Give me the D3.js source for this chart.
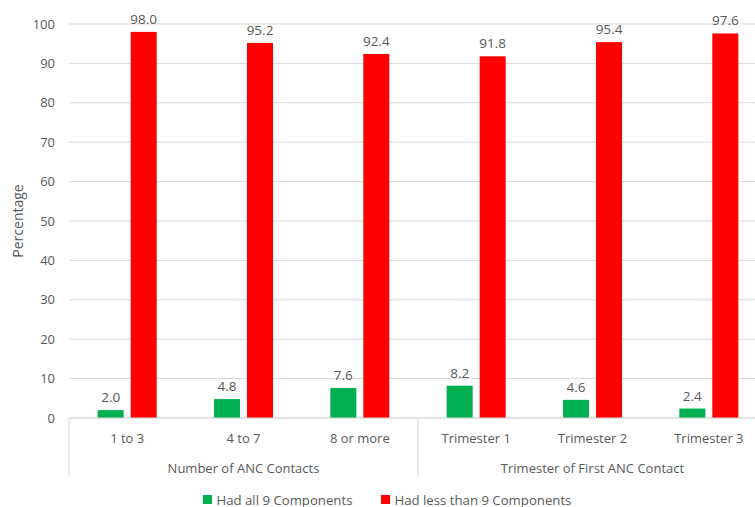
<!DOCTYPE html>
<html>
<head>
<meta charset="utf-8">
<script src="https://cdn.jsdelivr.net/npm/d3@7"></script>
<style>
  html, body { margin: 0; padding: 0; background: #fff; }
  svg text { font-family: "Open Sans", "Noto Sans", sans-serif; fill: #595959; }
</style>
</head>
<body>
<svg id="chart" width="755" height="507"></svg>
<script>
// Categories grouped under two headings
const categories = ["1 to 3", "4 to 7", "8 or more", "Trimester 1", "Trimester 2", "Trimester 3"];
const groups = [
  { name: "Number of ANC Contacts", members: ["1 to 3", "4 to 7", "8 or more"] },
  { name: "Trimester of First ANC Contact", members: ["Trimester 1", "Trimester 2", "Trimester 3"] }
];
const seriesNames = ["Had all 9 Components", "Had less than 9 Components"];
const allNine = [2.0, 4.8, 7.6, 8.2, 4.6, 2.4];
const lessNine = [98.0, 95.2, 92.4, 91.8, 95.4, 97.6];
const yTicks = [0, 10, 20, 30, 40, 50, 60, 70, 80, 90, 100];
const colors = ["#00B050", "#FF0000"];

const svg = d3.select("#chart");
const plotLeft = 69, plotRight = 767, plotTop = 24, plotBottom = 418;

const x = d3.scaleBand().domain(categories).range([plotLeft, plotRight]);
const inner = d3.scaleBand().domain(seriesNames).range([0, x.bandwidth()]).paddingInner(0.212).paddingOuter(0.868);
const y = d3.scaleLinear().domain([0, 100]).range([plotBottom, plotTop]);

// Horizontal gridlines
svg.append("g").selectAll("line").data(yTicks).join("line")
  .attr("x1", plotLeft).attr("x2", 755)
  .attr("y1", d => y(d)).attr("y2", d => y(d))
  .attr("stroke", "#D9D9D9").attr("stroke-width", 1);

// Y axis labels
const yAxis = svg.append("g").attr("transform", `translate(${plotLeft - 6},0)`)
  .call(d3.axisLeft(y).tickValues(yTicks).tickSize(0).tickPadding(8));
yAxis.select(".domain").remove();
yAxis.selectAll("text").attr("font-size", 13).style("font-family", "'Open Sans', sans-serif").attr("fill", "#595959");

svg.append("text")
  .attr("transform", `translate(23,${(plotTop + plotBottom) / 2}) rotate(-90)`)
  .attr("text-anchor", "middle").attr("font-size", 14).text("Percentage");

// Bars with value labels
const series = [allNine, lessNine];
series.forEach((vals, si) => {
  const g = svg.append("g");
  g.selectAll("rect").data(categories).join("rect")
    .attr("x", d => x(d) + inner(seriesNames[si]))
    .attr("width", inner.bandwidth())
    .attr("y", (d, i) => y(vals[i]))
    .attr("height", (d, i) => y(0) - y(vals[i]))
    .attr("fill", colors[si]);
  g.selectAll("text").data(categories).join("text")
    .attr("x", d => x(d) + inner(seriesNames[si]) + inner.bandwidth() / 2)
    .attr("y", (d, i) => y(vals[i]) - 8)
    .attr("text-anchor", "middle").attr("font-size", 13.5)
    .text((d, i) => vals[i].toFixed(1));
});

// Category axis: baseline, group separators, labels
svg.append("line").attr("x1", plotLeft).attr("x2", 755).attr("y1", plotBottom).attr("y2", plotBottom)
  .attr("stroke", "#D9D9D9");
const sepX = [x(groups[0].members[0]), x(groups[1].members[0]), plotRight];
svg.append("g").selectAll("line").data(sepX).join("line")
  .attr("x1", d => d).attr("x2", d => d).attr("y1", plotBottom).attr("y2", 477)
  .attr("stroke", "#D9D9D9");

svg.append("g").selectAll("text").data(categories).join("text")
  .attr("x", d => x(d) + x.bandwidth() / 2).attr("y", 443)
  .attr("text-anchor", "middle").attr("font-size", 13).text(d => d);

svg.append("g").selectAll("text").data(groups).join("text")
  .attr("x", d => (x(d.members[0]) + x(d.members[d.members.length - 1]) + x.bandwidth()) / 2)
  .attr("y", 473)
  .attr("text-anchor", "middle").attr("font-size", 13).text(d => d.name);

// Legend
const legendItems = [{ name: seriesNames[0], x: 203 }, { name: seriesNames[1], x: 381 }];
const lg = svg.append("g").selectAll("g").data(legendItems).join("g")
  .attr("transform", d => `translate(${d.x},495)`);
lg.append("rect").attr("width", 9).attr("height", 9).attr("fill", (d, i) => colors[i]);
lg.append("text").attr("x", 13.5).attr("y", 9.5).attr("font-size", 13.2).text(d => d.name);
</script>
</body>
</html>
